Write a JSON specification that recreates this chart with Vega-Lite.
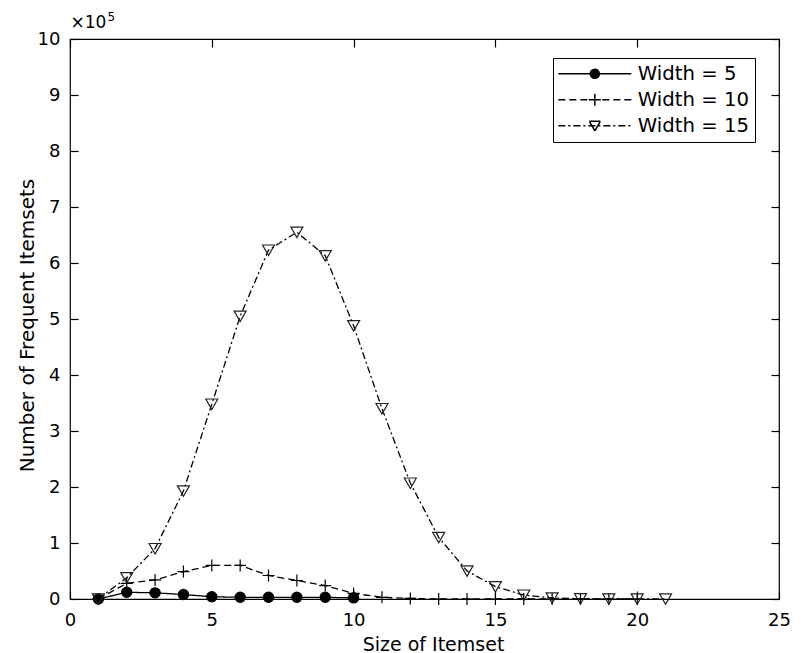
{
  "$schema": "https://vega.github.io/schema/vega-lite/v6.json",
  "width": 709,
  "height": 560,
  "autosize": {"type": "none"},
  "padding": {"left": 70, "top": 39, "right": 29, "bottom": 54},
  "background": "white",
  "config": {
    "font": "DejaVu Sans",
    "view": {"stroke": "black", "strokeWidth": 1.2},
    "axis": {
      "grid": false,
      "domain": false,
      "ticks": true,
      "zindex": 1,
      "tickColor": "black",
      "tickSize": 8,
      "tickWidth": 1.2,
      "labelColor": "black",
      "labelFontSize": 18,
      "labelFont": "DejaVu Sans",
      "titleColor": "black",
      "titleFontWeight": "normal",
      "titleFont": "DejaVu Sans",
      "labelFlush": false,
      "labelOverlap": false
    }
  },
  "data": {
    "values": [
      {"size": 1, "count": 0, "series": "Width = 5"},
      {"size": 2, "count": 12000, "series": "Width = 5"},
      {"size": 3, "count": 11000, "series": "Width = 5"},
      {"size": 4, "count": 8000, "series": "Width = 5"},
      {"size": 5, "count": 4000, "series": "Width = 5"},
      {"size": 6, "count": 3000, "series": "Width = 5"},
      {"size": 7, "count": 3000, "series": "Width = 5"},
      {"size": 8, "count": 3000, "series": "Width = 5"},
      {"size": 9, "count": 3000, "series": "Width = 5"},
      {"size": 10, "count": 2000, "series": "Width = 5"},
      {"size": 1, "count": 0, "series": "Width = 10"},
      {"size": 2, "count": 28000, "series": "Width = 10"},
      {"size": 3, "count": 34000, "series": "Width = 10"},
      {"size": 4, "count": 49000, "series": "Width = 10"},
      {"size": 5, "count": 60000, "series": "Width = 10"},
      {"size": 6, "count": 60000, "series": "Width = 10"},
      {"size": 7, "count": 42000, "series": "Width = 10"},
      {"size": 8, "count": 33000, "series": "Width = 10"},
      {"size": 9, "count": 24000, "series": "Width = 10"},
      {"size": 10, "count": 10000, "series": "Width = 10"},
      {"size": 11, "count": 3000, "series": "Width = 10"},
      {"size": 12, "count": 1000, "series": "Width = 10"},
      {"size": 13, "count": 0, "series": "Width = 10"},
      {"size": 14, "count": 0, "series": "Width = 10"},
      {"size": 15, "count": 0, "series": "Width = 10"},
      {"size": 16, "count": 0, "series": "Width = 10"},
      {"size": 17, "count": 0, "series": "Width = 10"},
      {"size": 18, "count": 0, "series": "Width = 10"},
      {"size": 19, "count": 0, "series": "Width = 10"},
      {"size": 20, "count": 0, "series": "Width = 10"},
      {"size": 1, "count": 0, "series": "Width = 15"},
      {"size": 2, "count": 38000, "series": "Width = 15"},
      {"size": 3, "count": 90000, "series": "Width = 15"},
      {"size": 4, "count": 193000, "series": "Width = 15"},
      {"size": 5, "count": 348000, "series": "Width = 15"},
      {"size": 6, "count": 505000, "series": "Width = 15"},
      {"size": 7, "count": 623000, "series": "Width = 15"},
      {"size": 8, "count": 655000, "series": "Width = 15"},
      {"size": 9, "count": 613000, "series": "Width = 15"},
      {"size": 10, "count": 488000, "series": "Width = 15"},
      {"size": 11, "count": 340000, "series": "Width = 15"},
      {"size": 12, "count": 207000, "series": "Width = 15"},
      {"size": 13, "count": 110000, "series": "Width = 15"},
      {"size": 14, "count": 50000, "series": "Width = 15"},
      {"size": 15, "count": 22000, "series": "Width = 15"},
      {"size": 16, "count": 7000, "series": "Width = 15"},
      {"size": 17, "count": 2000, "series": "Width = 15"},
      {"size": 18, "count": 500, "series": "Width = 15"},
      {"size": 19, "count": 100, "series": "Width = 15"},
      {"size": 20, "count": 0, "series": "Width = 15"},
      {"size": 21, "count": 0, "series": "Width = 15"}
    ]
  },
  "layer": [
    {
      "mark": {"type": "line", "color": "black", "strokeWidth": 1.3},
      "encoding": {
        "x": {
          "field": "size", "type": "quantitative",
          "scale": {"domain": [0, 25], "nice": false, "zero": false},
          "axis": {
            "orient": "bottom",
            "offset": -8,
            "values": [0, 5, 10, 15, 20, 25],
            "labelPadding": 12,
            "title": "Size of Itemset",
            "titleFontSize": 19,
            "titleX": 363,
            "titleY": 59,
            "titleBaseline": "alphabetic",
            "titleAlign": "center"
          }
        },
        "y": {
          "field": "count", "type": "quantitative",
          "scale": {"domain": [0, 1000000], "nice": false},
          "axis": {
            "orient": "left",
            "offset": -8,
            "values": [0, 100000, 200000, 300000, 400000, 500000, 600000, 700000, 800000, 900000, 1000000],
            "labelExpr": "format(datum.value / 100000, 'd')",
            "labelPadding": 10,
            "title": "Number of Frequent Itemsets",
            "titleFontSize": 20,
            "titleAngle": 270,
            "titleX": -51,
            "titleY": 286,
            "titleBaseline": "middle",
            "titleAlign": "center"
          }
        },
        "strokeDash": {
          "field": "series", "type": "nominal",
          "scale": {
            "domain": ["Width = 5", "Width = 10", "Width = 15"],
            "range": [[1, 0], [7, 4], [7, 3, 2, 3]]
          },
          "legend": null
        }
      }
    },
    {
      "mark": {"type": "point", "strokeWidth": 1.2, "opacity": 1},
      "encoding": {
        "x": {
          "field": "size", "type": "quantitative",
          "axis": {
            "orient": "top",
            "offset": -8,
            "values": [0, 5, 10, 15, 20, 25],
            "labels": false,
            "title": "×10",
            "titleFontSize": 17,
            "titleAngle": 0,
            "titleAlign": "left",
            "titleBaseline": "alphabetic",
            "titleX": 0,
            "titleY": -20
          }
        },
        "y": {
          "field": "count", "type": "quantitative",
          "scale": {"domain": [0, 1000000], "nice": false},
          "axis": {
            "orient": "right",
            "tickSize": -8,
            "values": [0, 100000, 200000, 300000, 400000, 500000, 600000, 700000, 800000, 900000, 1000000],
            "labels": false,
            "title": "5",
            "titleFontSize": 12,
            "titleAngle": 0,
            "titleAlign": "left",
            "titleBaseline": "alphabetic",
            "titleX": -672,
            "titleY": -19
          }
        },
        "shape": {
          "field": "series", "type": "nominal",
          "scale": {
            "domain": ["Width = 5", "Width = 10", "Width = 15"],
            "range": [
              "M0.85,0A0.85,0.85 0 1,1 -0.85,0A0.85,0.85 0 1,1 0.85,0Z",
              "M-1,0L1,0M0,-1L0,1",
              "M-1,-0.85L1,-0.85L0,0.9Z"
            ]
          },
          "legend": null
        },
        "fill": {
          "field": "series", "type": "nominal",
          "scale": {
            "domain": ["Width = 5", "Width = 10", "Width = 15"],
            "range": ["black", "transparent", "transparent"]
          },
          "legend": null
        },
        "stroke": {
          "field": "series", "type": "nominal",
          "scale": {
            "domain": ["Width = 5", "Width = 10", "Width = 15"],
            "range": ["black", "black", "#222222"]
          },
          "legend": null
        },
        "size": {"value": 144}
      }
    },
    {
      "mark": {"type": "point", "clip": true, "strokeWidth": 1.3, "opacity": 1},
      "encoding": {
        "x": {"field": "size", "type": "quantitative", "axis": null},
        "y": {
          "field": "count", "type": "quantitative",
          "scale": {"domain": [2000000, 3000000], "nice": false, "zero": false},
          "axis": null
        },
        "shape": {
          "field": "series", "type": "nominal",
          "scale": {
            "domain": ["Width = 5", "Width = 10", "Width = 15"],
            "range": [
              "M-7.3,0L7.3,0M0.9,0A0.9,0.9 0 1,1 -0.9,0A0.9,0.9 0 1,1 0.9,0Z",
              "M-7.3,0L7.3,0M-1.2,0L0,0M0,0L1.2,0M0,-1.2L0,0M0,0L0,1.2",
              "M-7.3,0L7.3,0M-1.1,-0.9L0,-0.9M0,-0.9L1.1,-0.9M1.1,-0.9L0.55,0.05M0.55,0.05L0,1M0,1L-0.55,0.05M-0.55,0.05L-1.1,-0.9"
            ]
          },
          "legend": {
            "orient": "none",
            "legendX": 483,
            "legendY": 19,
            "title": null,
            "padding": 6,
            "strokeColor": "black",
            "fillColor": "white",
            "symbolSize": 100,
            "symbolOffset": 26,
            "labelOffset": 33,
            "rowPadding": 5,
            "labelFontSize": 19.7,
            "labelFont": "DejaVu Sans",
            "labelColor": "black",
            "encode": {
              "symbols": {
                "stroke": {"value": "black"},
                "strokeWidth": {"value": 1.3},
                "opacity": {"value": 1}
              }
            }
          }
        },
        "fill": {
          "field": "series", "type": "nominal",
          "scale": {
            "domain": ["Width = 5", "Width = 10", "Width = 15"],
            "range": ["black", "transparent", "transparent"]
          }
        },
        "strokeDash": {
          "field": "series", "type": "nominal",
          "scale": {
            "domain": ["Width = 5", "Width = 10", "Width = 15"],
            "range": [[1, 0], [7, 4], [7, 3, 2, 3]]
          }
        },
        "stroke": {"value": "black"},
        "size": {"value": 100}
      }
    }
  ],
  "resolve": {
    "axis": {"x": "independent", "y": "independent"},
    "scale": {"y": "independent", "shape": "independent", "fill": "independent", "strokeDash": "independent", "stroke": "independent"}
  }
}
